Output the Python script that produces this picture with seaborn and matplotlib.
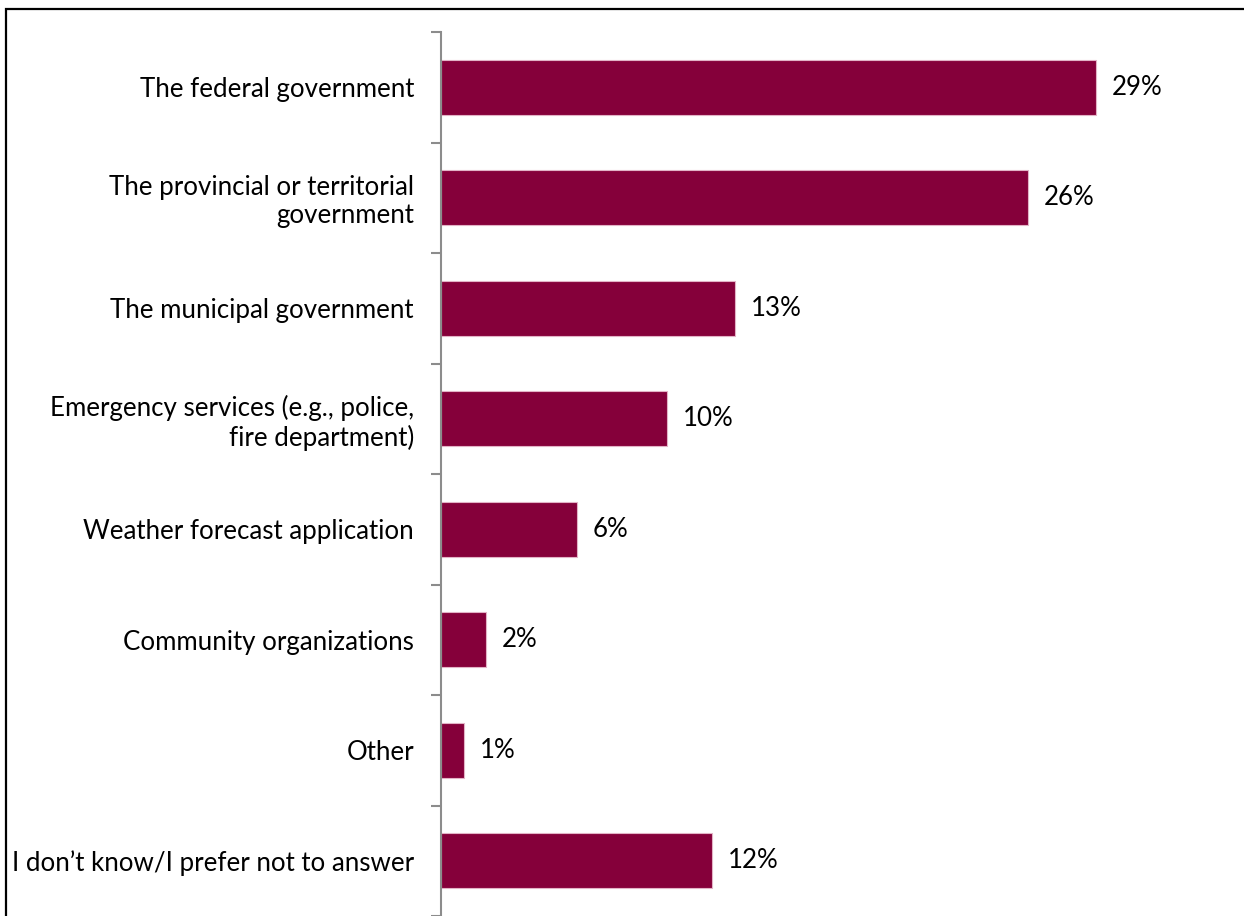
import matplotlib
matplotlib.use("Agg")
import matplotlib.pyplot as plt
import seaborn as sns
import pandas as pd
import numpy as np
from matplotlib.patches import Rectangle

categories = [
    "The federal government",
    "The provincial or territorial\ngovernment",
    "The municipal government",
    "Emergency services (e.g., police,\nfire department)",
    "Weather forecast application",
    "Community organizations",
    "Other",
    "I don\u2019t know/I prefer not to answer",
]
values = [29, 26, 13, 10, 6, 2, 1, 12]

sns.set_theme(style="white")
plt.rcParams["font.family"] = ["Lato", "DejaVu Sans"]

W, H = 1244, 916
fig = plt.figure(figsize=(W / 100, H / 100), dpi=100)
ax = fig.add_axes([441 / W, 0, (W - 441) / W, 1 - 32 / H])

df = pd.DataFrame({"label": categories, "value": values})
sns.barplot(data=df, x="value", y="label", orient="h", color="#85003A",
            saturation=1, width=0.5, edgecolor="#e2b3c6", linewidth=0.8, ax=ax)

ax.set_xlim(0, 35.55)
ax.set_ylim(7.48, -0.5)
ax.set_xlabel("")
ax.set_ylabel("")
ax.set_xticks([])

for s in ["top", "right", "bottom"]:
    ax.spines[s].set_visible(False)
ax.spines["left"].set_color("#8c8c8c")
ax.spines["left"].set_linewidth(1.5)

ax.set_yticks(range(len(categories)))
ax.set_yticklabels(categories, fontsize=18.6, color="black", linespacing=1.15)
ax.tick_params(axis="y", which="major", length=0, pad=19.5)
ax.set_yticks(np.arange(-0.5, len(categories), 1.0), minor=True)
ax.tick_params(axis="y", which="minor", length=7, width=1.5, color="#8c8c8c",
               direction="out", left=True)

for i, v in enumerate(values):
    ax.text(v + 0.7, i, f"{v}%", va="center", ha="left", fontsize=18.6, color="black")

# outer frame of the figure
fig.patches.append(Rectangle((6 / W, -0.05), 1.2, 1 - 9 / H + 0.05,
                             transform=fig.transFigure, fill=False,
                             edgecolor="black", linewidth=1.6, zorder=0))

fig.savefig("out.png", dpi=100)
